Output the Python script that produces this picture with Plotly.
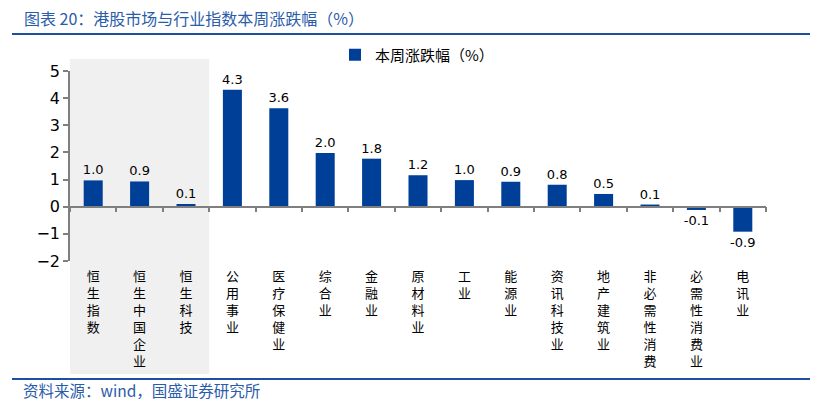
import plotly.graph_objects as go

categories = ["恒生指数", "恒生中国企业", "恒生科技", "公用事业", "医疗保健业", "综合业", "金融业",
              "原材料业", "工业", "能源业", "资讯科技业", "地产建筑业", "非必需性消费", "必需性消费业", "电讯业"]
values = [0.97, 0.93, 0.10, 4.31, 3.63, 1.98, 1.77, 1.16, 0.98, 0.92, 0.81, 0.47, 0.08, -0.12, -0.92]
series_name = "本周涨跌幅（%）"
title_text = "图表 20：港股市场与行业指数本周涨跌幅（%）"
source_text = "资料来源：wind，国盛证券研究所"
y_ticks = [-2, -1, 0, 1, 2, 3, 4, 5]

tick_labels = ["<br>".join(list(c)) for c in categories]

BAR = "#003F98"
BLUE = "#1F4FA0"
AXIS = "#7F7F7F"
CJK = "Noto Sans CJK SC"
NUM = "DejaVu Sans"

# page body has an 8px default margin: draw the figure 8px smaller and shift coordinates
OX, OY = 8, 8
W, H = 820 - OX, 411 - OY
L, T = 70 - OX, 71 - OY
R = W - (766 - OX)
B = H - (261 - OY)
PW = W - L - R
PH = H - T - B


def px_x(x):
    return (x - OX - L) / PW


def px_y(y):
    return (H - B - (y - OY)) / PH


fig = go.Figure()
fig.add_trace(go.Bar(
    x=categories, y=values, name=series_name,
    marker=dict(color=BAR, line=dict(width=0)),
    width=0.41,
    text=[f"{v:.1f}" for v in values],
    textposition="outside",
    constraintext="none",
    textfont=dict(family=NUM, size=13, color="#000000"),
    cliponaxis=False,
    showlegend=True,
))

fig.add_shape(type="rect", xref="x", yref="paper", x0=-0.5, x1=2.5,
              y0=px_y(374), y1=px_y(59),
              fillcolor="#F0F0F0", line=dict(width=0), layer="below")

fig.update_layout(
    width=W, height=H,
    margin=dict(l=L, r=R, t=T, b=B, autoexpand=False),
    paper_bgcolor="white", plot_bgcolor="rgba(0,0,0,0)",
    font=dict(family=NUM, color="#000000"),
    showlegend=True,
    legend=dict(x=px_x(335), y=px_y(55), xanchor="left", yanchor="middle",
                font=dict(family=CJK, size=15, color="#000000"),
                bgcolor="rgba(0,0,0,0)", itemwidth=30),
    xaxis=dict(
        type="category", categoryorder="array", categoryarray=categories,
        tickmode="array", tickvals=categories, ticktext=tick_labels,
        anchor="free", position=2 / 7, automargin=False,
        showline=True, linecolor=AXIS, linewidth=1.5,
        ticks="outside", ticklen=5, tickcolor=AXIS, tickwidth=1.5, tickson="boundaries",
        ticklabelstandoff=58,
        tickfont=dict(family=CJK, size=13, color="#000000"),
        showgrid=False, zeroline=False, range=[-0.5, len(categories) - 0.5],
    ),
    yaxis=dict(
        range=[-2, 5], tickmode="array", tickvals=y_ticks, automargin=False,
        showline=True, linecolor=AXIS, linewidth=1.5,
        ticks="outside", ticklen=5, tickcolor=AXIS, tickwidth=1.5,
        tickfont=dict(family=NUM, size=16, color="#000000"),
        showgrid=False, zeroline=False,
    ),
)

fig.add_annotation(text=title_text, xref="paper", yref="paper",
                   x=px_x(22), y=px_y(18),
                   xanchor="left", yanchor="middle", showarrow=False,
                   font=dict(family=CJK, size=16, color="#2A5CAA"))
fig.add_annotation(text=source_text, xref="paper", yref="paper",
                   x=px_x(21), y=px_y(390),
                   xanchor="left", yanchor="middle", showarrow=False,
                   font=dict(family=CJK, size=15.5, color="#2A5CAA"))
for ypix in (34, 379):
    fig.add_shape(type="line", xref="paper", yref="paper",
                  x0=px_x(12), x1=px_x(810),
                  y0=px_y(ypix), y1=px_y(ypix),
                  line=dict(color=BLUE, width=2))

fig.write_html("out.html")
